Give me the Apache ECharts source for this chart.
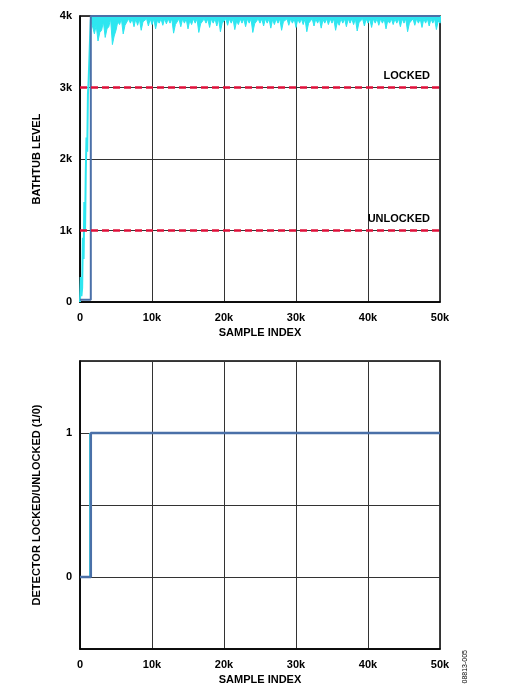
<!DOCTYPE html>
<html><head><meta charset="utf-8">
<script src="https://cdn.jsdelivr.net/npm/echarts@6/dist/echarts.min.js"></script>
<style>body{margin:0;background:#fff}#c{width:514px;height:688px}</style></head>
<body><div id="c"></div>
<script>
const xTicks = ['0','10k','20k','30k','40k','50k'];
const yTicksTop = ['0','1k','2k','3k','4k'];
const rampX = [0,100,200,300,400,500,600,700,800,900,1000,1100,1200,1300,1400,1500];
const rampY = [0,350,80,200,900,600,1400,1000,1800,2300,2100,2900,3100,3400,3700,3950];
const noiseY = [3750,3650,3800,3700,3850,3600,3800,3880,3750,3860,3900,3850,3870,3800,3900,3860,3880,3820,3900,3870,
  3890,3900,3760,3880,3850,3900,3820,3880,3900,3770,3870,3900,3840,3900,3860,3780,3900,3870,3900,3810,
  3880,3900,3850,3900,3770,3880,3900,3860,3900,3830,3880,3900,3800,3900,3870,3900,3840,3900,3880,3780,
  3900,3860,3900,3830,3900,3880,3900,3800,3870,3900,3850,3900,3880,3790,3900,3860,3900,3840,3900,3870,
  3900,3820,3900,3880,3900,3850,3900,3780,3900,3870,3900,3840,3900,3860,3900,3810,3900,3880,3900];
const noiseStep = 500;
const lockedLevel = 3000, unlockedLevel = 1000;
const detX = [0,1500,1500,50000];
const detY = [0,0,1,1];

const rampData = rampX.map((x,i)=>[x,rampY[i]]);
const noiseData = [[1500,3950]];
noiseY.forEach((y,i)=>{noiseData.push([1500+noiseStep*(i+1), y]); noiseData.push([1500+noiseStep*(i+1)+250, Math.min(3960, y+120)]);});
const blueTop = [[0,30],[1500,30],[1500,4000],[50000,4000]];
const detData = detX.map((x,i)=>[x,detY[i]]);

const font = {fontFamily:'Liberation Sans, Arial', fontWeight:'bold', fontSize:11, color:'#000'};
function xAxis(gi){return {type:'value', gridIndex:gi, min:0, max:50000, interval:10000,
  axisLine:{onZero:false,lineStyle:{color:'#000',width:1.5}}, axisTick:{show:false},
  axisLabel:Object.assign({formatter:v=>xTicks[v/10000], margin:10}, font),
  splitLine:{lineStyle:{color:'#333',width:1}},
  name:'SAMPLE INDEX', nameLocation:'middle', nameGap:25, nameTextStyle:font};}
const chart = echarts.init(document.getElementById('c'));
chart.setOption({
  animation:false,
  grid:[{left:80,right:74,top:16,height:286,show:true,borderColor:'#000',borderWidth:1.5},
        {left:80,right:74,top:361,height:288,show:true,borderColor:'#000',borderWidth:1.5}],
  xAxis:[xAxis(0), xAxis(1)],
  yAxis:[
    {type:'value', gridIndex:0, min:0, max:4000, interval:1000, axisTick:{show:false},
     axisLine:{lineStyle:{color:'#000',width:1.5}},
     axisLabel:Object.assign({formatter:v=>yTicksTop[v/1000]}, font),
     splitLine:{lineStyle:{color:'#333',width:1}},
     name:'BATHTUB LEVEL', nameLocation:'middle', nameGap:38, nameTextStyle:font},
    {type:'value', gridIndex:1, min:-0.5, max:1.5, interval:0.5, axisTick:{show:false},
     axisLine:{lineStyle:{color:'#000',width:1.5}},
     axisLabel:Object.assign({formatter:v=>(v===0||v===1)?String(v):''}, font),
     splitLine:{lineStyle:{color:'#333',width:1}},
     name:'DETECTOR LOCKED/UNLOCKED (1/0)', nameLocation:'middle', nameGap:38, nameTextStyle:font}
  ],
  series:[
    {type:'line', xAxisIndex:0, yAxisIndex:0, data:rampData, showSymbol:false,
     lineStyle:{color:'#2ee6f0',width:2}},
    {type:'line', xAxisIndex:0, yAxisIndex:0, data:noiseData, showSymbol:false,
     lineStyle:{color:'#2ee6f0',width:1},
     areaStyle:{origin:'end', color:'#2ee6f0', opacity:1}},
    {type:'line', xAxisIndex:0, yAxisIndex:0, data:blueTop, showSymbol:false,
     lineStyle:{color:'#4a70a8',width:2},
     markLine:{symbol:'none', silent:true,
       lineStyle:{color:'#e0103a',type:[7,4],width:2.5},
       label:Object.assign({position:'insideEndTop', distance:[10,6]}, font),
       data:[{yAxis:lockedLevel, label:{formatter:'LOCKED'}},{yAxis:unlockedLevel, label:{formatter:'UNLOCKED'}}]}},
    {type:'line', xAxisIndex:1, yAxisIndex:1, data:[[1400,0],[1400,1]], showSymbol:false,
     lineStyle:{color:'#2ee6f0',width:2}},
    {type:'line', xAxisIndex:1, yAxisIndex:1, data:detData, showSymbol:false,
     lineStyle:{color:'#4a70a8',width:2.5}}
  ],
  graphic:[{type:'text', left:462, top:650, rotation:Math.PI/2,
    style:{text:'08813-005', font:'7px Liberation Sans, Arial', fill:'#000'}}]
});
</script></body></html>
